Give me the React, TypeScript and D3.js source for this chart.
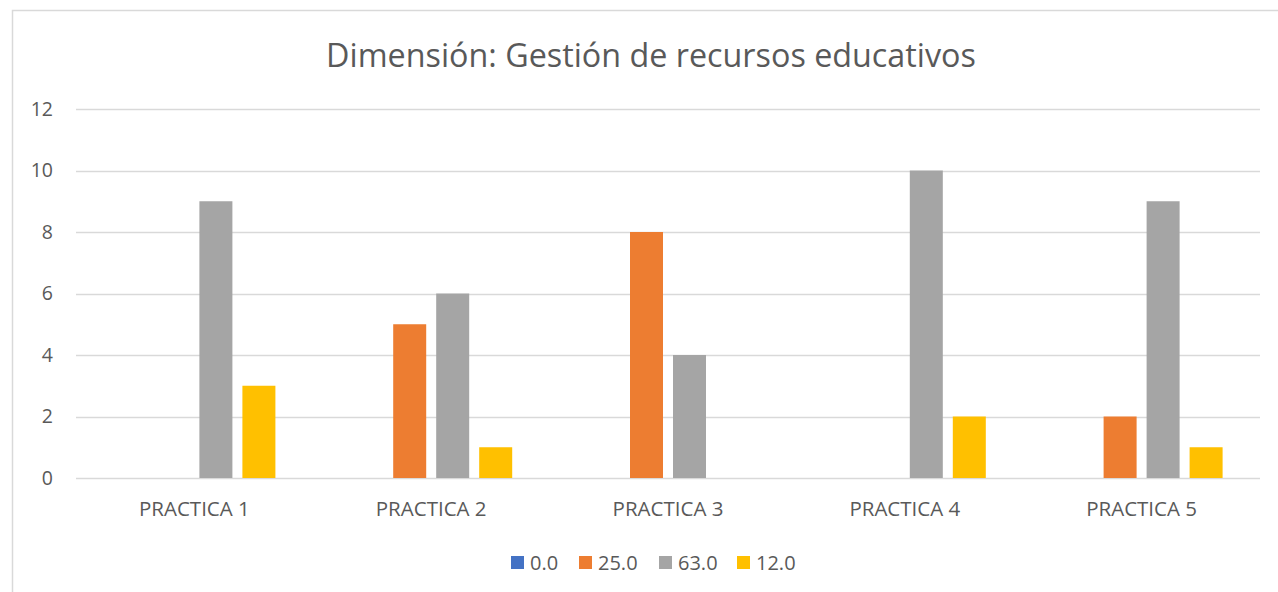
import React from "react";
import * as d3 from "d3";

const categories = ["PRACTICA 1", "PRACTICA 2", "PRACTICA 3", "PRACTICA 4", "PRACTICA 5"];
const seriesNames = ["0.0", "25.0", "63.0", "12.0"];
const seriesColors = ["#4472C4", "#ED7D31", "#A5A5A5", "#FFC000"];
const values0 = [0, 0, 0, 0, 0];
const values25 = [0, 5, 8, 0, 2];
const values63 = [9, 6, 4, 10, 9];
const values12 = [3, 1, 0, 2, 1];
const seriesValues = [values0, values25, values63, values12];
const yTicks = [0, 2, 4, 6, 8, 10, 12];
const title = "Dimensión: Gestión de recursos educativos";

const W = 1278;
const H = 592;
const plotLeft = 76;
const plotRight = 1260;
const plotTop = 109;
const plotBottom = 478;
const FONT = "'Open Sans', 'Liberation Sans', sans-serif";
const TEXT = "#595959";
const GRID = "#D9D9D9";

export default function App() {
  const x0 = d3.scaleBand<string>().domain(categories).range([plotLeft, plotRight]).paddingInner(0).paddingOuter(0);
  const x1 = d3.scaleBand<string>().domain(seriesNames).range([0, 162]).paddingInner(10 / 43).paddingOuter(0);
  const y = d3.scaleLinear().domain([0, 12]).range([plotBottom, plotTop]);

  const legendX = [511, 579, 659, 737];

  return (
    <svg width={W} height={H} style={{ position: "absolute", left: 0, top: 0, display: "block" }} fontFamily={FONT}>
      <rect x={0} y={0} width={W} height={H} fill="#fff" />
      <rect x={12.5} y={10.5} width={W + 20} height={H + 20} fill="none" stroke={GRID} strokeWidth={1.5} />
      <text x={651} y={55.5} dy="0.35em" textAnchor="middle" fontSize={32.3} fill={TEXT}>{title}</text>
      {yTicks.map((t) => (
        <g key={t}>
          <line x1={plotLeft} x2={plotRight} y1={Math.round(y(t)) + 0.5} y2={Math.round(y(t)) + 0.5} stroke={GRID} strokeWidth={1.3} />
          <text x={53} y={y(t)} dy="0.35em" textAnchor="end" fontSize={19.5} fill={TEXT}>{t}</text>
        </g>
      ))}
      {categories.map((c, i) => {
        const gx = (x0(c) as number) + x0.bandwidth() / 2 - 81;
        return (
          <g key={c}>
            {seriesNames.map((s, j) => {
              const v = seriesValues[j][i];
              if (v <= 0) return null;
              return (
                <rect key={s} x={gx + (x1(s) as number)} y={y(v)} width={x1.bandwidth()} height={y(0) - y(v)} fill={seriesColors[j]} />
              );
            })}
            <text x={(x0(c) as number) + x0.bandwidth() / 2} y={509} dy="0.35em" textAnchor="middle" fontSize={20.5} fill={TEXT}>{c}</text>
          </g>
        );
      })}
      {seriesNames.map((s, j) => (
        <g key={s}>
          <rect x={legendX[j]} y={556} width={13} height={13} fill={seriesColors[j]} />
          <text x={legendX[j] + 19} y={562.5} dy="0.35em" fontSize={20} fill={TEXT}>{s}</text>
        </g>
      ))}
    </svg>
  );
}
